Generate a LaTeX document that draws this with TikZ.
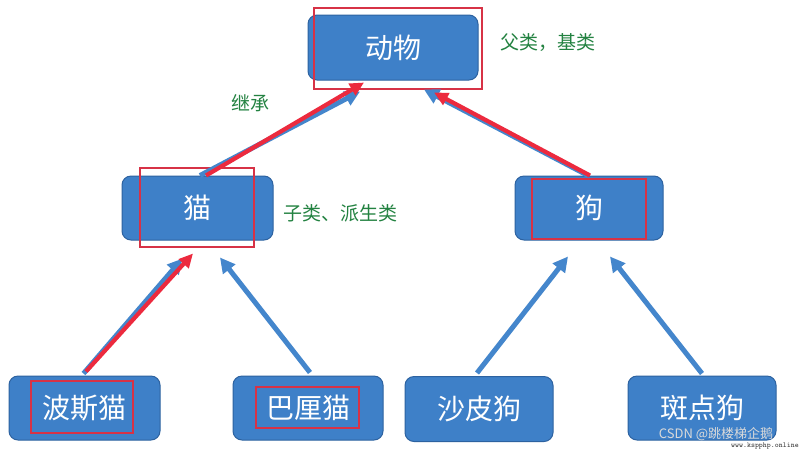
\documentclass[tikz,border=0pt]{standalone}
\usepackage{fontspec}
\setmainfont{Liberation Sans}
\newfontfamily\cjk{Noto Sans CJK SC}
\usetikzlibrary{arrows.meta,calc}
\definecolor{boxfill}{RGB}{62,128,200}
\definecolor{boxline}{RGB}{45,98,160}
\definecolor{arrblue}{RGB}{68,134,204}
\definecolor{arred}{RGB}{236,42,62}
\definecolor{rectred}{RGB}{215,50,70}
\definecolor{lblgreen}{RGB}{35,130,65}
\tikzset{
  x=1pt,y=-1pt,
  cls/.style={draw=boxline,line width=1pt,fill=boxfill,rounded corners=9pt,
    text=white,font=\cjk\fontsize{28}{28}\selectfont,inner sep=0pt,
    minimum width=#1,minimum height=64pt},
  hl/.style={draw=rectred,line width=1.2pt,inner sep=0pt,fill=none},
  lbl/.style={text=lblgreen,font=\cjk\fontsize{19}{19}\selectfont,inner sep=0pt},
  barrow/.style={draw=arrblue,line width=5pt,-{Triangle[length=15pt,width=15pt]}},
  rarrow/.style={draw=arred,line width=4.2pt,-{Triangle[length=14pt,width=13pt]}},
}
\begin{document}
\begin{tikzpicture}
\useasboundingbox[fill=white] (0,0) rectangle (800,451);
% class boxes
\node[cls=170pt,minimum height=65pt] (animal) at (393,47.5) {动物};
\node[cls=151pt] (cat) at (197.5,208) {猫};
\node[cls=148pt] (dog) at (589,208) {狗};
\node[cls=151pt] (persian) at (84.5,408) {波斯猫};
\node[cls=150pt] (bali) at (308,408) {巴厘猫};
\node[cls=148pt,minimum height=65pt] (shapi) at (479,409) {沙皮狗};
\node[cls=148pt] (spotted) at (702,408) {斑点狗};
% red highlight rectangles
\node[hl,minimum width=168pt,minimum height=81pt] (hanimal) at (398,48.5) {};
\node[hl,minimum width=114pt,minimum height=79pt] (hcat) at (197,207.5) {};
\node[hl,minimum width=114pt,minimum height=60pt] (hdog) at (589,209) {};
\node[hl,minimum width=102pt,minimum height=52pt] (hpersian) at (82,407) {};
\node[hl,minimum width=103pt,minimum height=41pt] (hbali) at (307.5,407.5) {};
% labels
\node[lbl,anchor=west] (lparent) at (500,43) {父类，基类};
\node[lbl,anchor=west] (lchild) at (283,213) {子类、派生类};
\node[lbl] (linherit) at (250,103) {继承};
% blue arrows
\draw[barrow] ($(cat.north)+(2.5,0)$) -- ($(animal.south)+(-33,11)$);
\draw[barrow] ($(dog.north)+(-1,0)$) -- ($(animal.south)+(31,9)$);
\draw[barrow] ($(persian.north)+(-1,-2)$) -- ($(cat.south)+(-15,18)$);
\draw[barrow] ($(bali.north)+(2,-3)$) -- ($(cat.south)+(22.5,17)$);
\draw[barrow] ($(shapi.north)+(-2,-3)$) -- ($(dog.south)+(-21,16)$);
\draw[barrow] ($(spotted.north)+(0,-2)$) -- ($(dog.south)+(21,16)$);
% red arrows
\draw[rarrow] ($(cat.north)+(8.5,0)$) -- ($(animal.south)+(-29,2)$);
\draw[rarrow] ($(dog.north)+(1,0)$) -- ($(animal.south)+(41,12)$);
\draw[rarrow] ($(persian.north)+(1.5,-4)$) -- ($(cat.south)+(-4.5,13)$);
% watermark
\node[text=white!85!black,font=\cjk\fontsize{13}{13}\selectfont,inner sep=0pt] (wm) at (716,434) {CSDN @跳楼梯企鹅};
\node[text=black!80,font=\ttfamily\fontsize{7.5}{7.5}\selectfont,inner sep=0pt,anchor=east] (wm2) at (799,446.5) {www.kspphp.online};
\end{tikzpicture}
\end{document}
